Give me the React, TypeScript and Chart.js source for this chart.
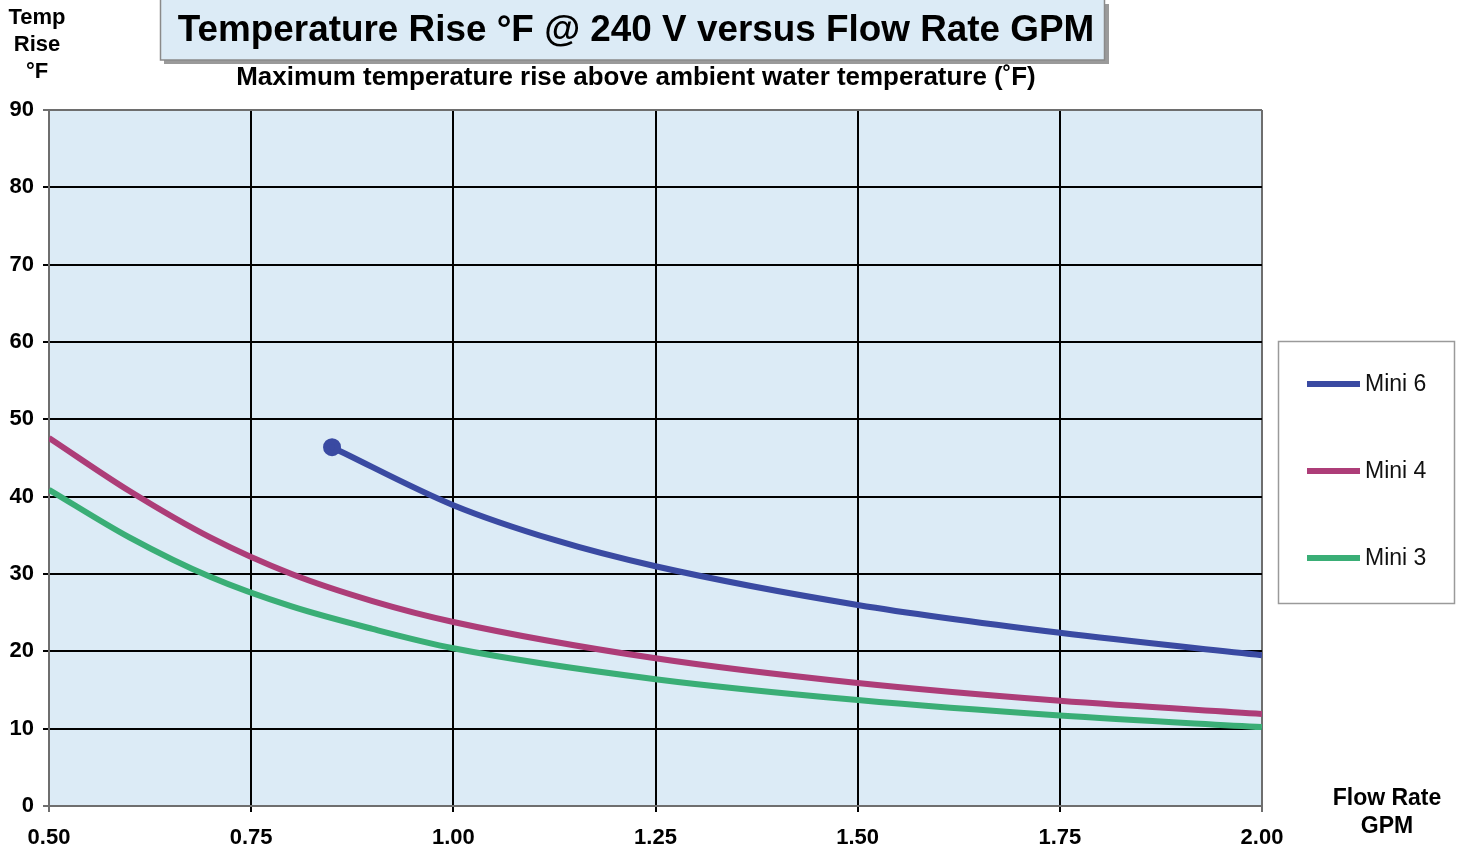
import React, { useEffect, useRef } from "react";
import { Chart, registerables } from "chart.js";

Chart.register(...registerables);

const titleText = "Temperature Rise °F @ 240 V versus Flow Rate GPM";
const subtitleText = "Maximum temperature rise above ambient water temperature (˚F)";
const yTitleLines = ["Temp", "Rise", "°F"];
const xTitleLines = ["Flow Rate", "GPM"];

const seriesNames = ["Mini 6", "Mini 4", "Mini 3"];
const seriesColors = ["#3a4aa2", "#ad3d78", "#3aae76"];

const mini6X = [0.85, 1.0, 1.125, 1.25, 1.5, 1.75, 2.0];
const mini6Y = [46.4, 38.9, 34.4, 31.0, 26.0, 22.4, 19.5];

const mini4X = [0.5, 0.6, 0.7, 0.8, 0.9, 1.0, 1.25, 1.5, 1.75, 2.0];
const mini4Y = [47.6, 40.7, 34.7, 30.0, 26.5, 23.8, 19.1, 15.9, 13.6, 11.9];

const mini3X = [0.5, 0.6, 0.7, 0.8, 0.9, 1.0, 1.25, 1.5, 1.75, 2.0];
const mini3Y = [40.9, 34.7, 29.6, 25.8, 22.9, 20.4, 16.4, 13.7, 11.7, 10.2];

const xMin = 0.5;
const xMax = 2.0;
const xStep = 0.25;
const yMin = 0;
const yMax = 90;
const yStep = 10;

const FONT = '"Liberation Sans", Arial, Helvetica, sans-serif';

const toPoints = (xs: number[], ys: number[]) => xs.map((x, i) => ({ x, y: ys[i] }));

export default function App() {
  const ref = useRef<HTMLCanvasElement | null>(null);

  useEffect(() => {
    if (!ref.current) return;

    const decor = {
      id: "decor",
      beforeDraw(chart: any) {
        const { ctx, chartArea } = chart;
        ctx.save();
        ctx.fillStyle = "#ffffff";
        ctx.fillRect(0, 0, chart.width, chart.height);
        ctx.fillStyle = "#dcebf6";
        ctx.fillRect(chartArea.left, chartArea.top, chartArea.right - chartArea.left, chartArea.bottom - chartArea.top);
        ctx.restore();
      },
      afterDraw(chart: any) {
        const { ctx } = chart;
        ctx.save();
        ctx.fillStyle = "#9a9a9a";
        ctx.fillRect(164, 4, 945, 60);
        ctx.fillStyle = "#dcebf6";
        ctx.fillRect(160, 0, 945, 60);
        ctx.strokeStyle = "#8a8a8a";
        ctx.lineWidth = 1.5;
        ctx.strokeRect(160.5, -1, 944, 61);

        ctx.fillStyle = "#000";
        ctx.textAlign = "center";
        ctx.textBaseline = "middle";
        let fs = 36;
        ctx.font = `bold ${fs}px ${FONT}`;
        let w = ctx.measureText(titleText).width;
        fs = fs * 917 / w;
        ctx.font = `bold ${fs}px ${FONT}`;
        ctx.fillText(titleText, 636, 31);

        let sfs = 22;
        ctx.font = `bold ${sfs}px ${FONT}`;
        w = ctx.measureText(subtitleText).width;
        sfs = sfs * 800 / w;
        ctx.font = `bold ${sfs}px ${FONT}`;
        ctx.fillText(subtitleText, 636, 78);

        ctx.font = `bold 22px ${FONT}`;
        yTitleLines.forEach((t, i) => ctx.fillText(t, 37, 18 + i * 27));
        ctx.font = `bold 23px ${FONT}`;
        xTitleLines.forEach((t, i) => ctx.fillText(t, 1387, 799 + i * 28));

        ctx.fillStyle = "#ffffff";
        ctx.fillRect(1278, 341, 176, 262);
        ctx.strokeStyle = "#9a9a9a";
        ctx.lineWidth = 1.5;
        ctx.strokeRect(1278.5, 341.5, 176, 262);
        ctx.textAlign = "left";
        ctx.font = `23px ${FONT}`;
        seriesNames.forEach((n, i) => {
          const y = 384 + i * 87;
          ctx.strokeStyle = seriesColors[i];
          ctx.lineWidth = 6;
          ctx.beginPath();
          ctx.moveTo(1307, y);
          ctx.lineTo(1360, y);
          ctx.stroke();
          ctx.fillStyle = "#111";
          ctx.fillText(n, 1365, y + 1);
        });
        ctx.restore();
      },
    };

    const gridColor = (axis: string) => (c: any) => {
      const n = c.chart.scales[axis].ticks.length;
      if (c.index === 0 || c.index === n - 1) return "#6e6e6e";
      return "#000000";
    };

    const chart = new Chart(ref.current, {
      type: "line",
      data: {
        datasets: [
          {
            label: seriesNames[0],
            data: toPoints(mini6X, mini6Y),
            borderColor: seriesColors[0],
            backgroundColor: seriesColors[0],
            borderWidth: 6,
            pointRadius: mini6X.map((_, i) => (i === 0 ? 6 : 0)),
            cubicInterpolationMode: "monotone",
          },
          {
            label: seriesNames[1],
            data: toPoints(mini4X, mini4Y),
            borderColor: seriesColors[1],
            backgroundColor: seriesColors[1],
            borderWidth: 6,
            pointRadius: 0,
            cubicInterpolationMode: "monotone",
          },
          {
            label: seriesNames[2],
            data: toPoints(mini3X, mini3Y),
            borderColor: seriesColors[2],
            backgroundColor: seriesColors[2],
            borderWidth: 6,
            pointRadius: 0,
            cubicInterpolationMode: "monotone",
          },
        ],
      },
      options: {
        animation: false,
        responsive: false,
        maintainAspectRatio: false,
        layout: { padding: { left: 0, top: 110, right: 196, bottom: 0 } },
        plugins: { legend: { display: false }, tooltip: { enabled: false }, title: { display: false } },
        scales: {
          x: {
            type: "linear",
            min: xMin,
            max: xMax,
            afterFit: (s: any) => { s.height = 44; },
            ticks: {
              stepSize: xStep,
              color: "#000",
              font: { family: FONT, size: 22, weight: "bold" },
              padding: 13,
              maxRotation: 0,
              callback: (v: any) => Number(v).toFixed(2),
            },
            grid: { color: gridColor("x"), lineWidth: 2, tickLength: 6, drawTicks: true },
            border: { color: "#6e6e6e", width: 2 },
          },
          y: {
            min: yMin,
            max: yMax,
            afterFit: (s: any) => { s.width = 49; },
            ticks: {
              stepSize: yStep,
              color: "#000",
              font: { family: FONT, size: 22, weight: "bold" },
              padding: 9,
            },
            grid: { color: gridColor("y"), lineWidth: 2, tickLength: 6, drawTicks: true },
            border: { color: "#6e6e6e", width: 2 },
          },
        },
      },
      plugins: [decor],
    } as any);

    return () => chart.destroy();
  }, []);

  return (
    <div style={{ position: "absolute", left: 0, top: 0, width: 1458, height: 850 }}>
      <canvas ref={ref} width={1458} height={850} style={{ width: 1458, height: 850, display: "block" }} />
    </div>
  );
}
